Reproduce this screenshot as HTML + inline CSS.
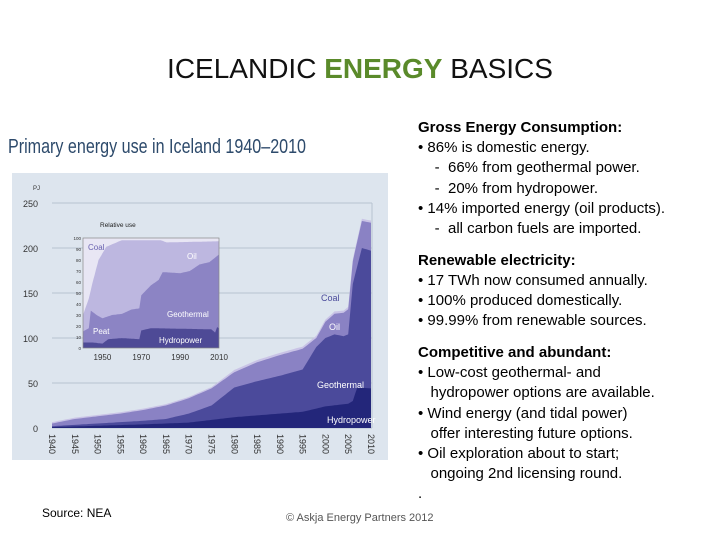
<!DOCTYPE html>
<html><head><meta charset="utf-8"><style>
body{margin:0;width:720px;height:540px;background:#fff;position:relative;overflow:hidden;font-family:"Liberation Sans",Arial,sans-serif}
.t{position:absolute;left:0;width:720px;top:53px;text-align:center;font-size:28px;color:#111}
.r{position:absolute;left:418px;top:118px;font-size:15px;line-height:20.2px;color:#000;white-space:pre}
.r b{display:block}
.gap{height:11.5px}
</style></head><body>
<div class="t">ICELANDIC <b style="color:#5a8a2a">ENERGY</b> BASICS</div>
<svg width="720" height="540" style="position:absolute;left:0;top:0" id="s" font-family="Liberation Sans,Arial,sans-serif">
<rect x="12" y="173" width="376" height="287" fill="#dde5ee"/>
<text x="8" y="153" font-size="20" fill="#2d4a6b" textLength="298" lengthAdjust="spacingAndGlyphs">Primary energy use in Iceland 1940–2010</text>
<g id="g"></g>
<text x="42" y="517" font-size="12" fill="#000">Source: NEA</text>
<text x="286" y="521" font-size="11" fill="#555">© Askja Energy Partners 2012</text>
</svg>
<div class="r"><b>Gross Energy Consumption:</b>• 86% is domestic energy.
    -  66% from geothermal power.
    -  20% from hydropower.
• 14% imported energy (oil products).
    -  all carbon fuels are imported.
<div class="gap"></div><b>Renewable electricity:</b>• 17 TWh now consumed annually.
• 100% produced domestically.
• 99.99% from renewable sources.
<div class="gap"></div><b>Competitive and abundant:</b>• Low-cost geothermal- and
   hydropower options are available.
• Wind energy (and tidal power)
   offer interesting future options.
• Oil exploration about to start;
   ongoing 2nd licensing round.
.</div>
<script>
var g=document.getElementById('g'),h='';
function X(y){return 52+(y-1940)*4.557}
function Y(v){return 428-v*0.9}
function interp(pts,yr){for(var i=0;i<pts.length-1;i++){if(yr>=pts[i][0]&&yr<=pts[i+1][0]){var t=(yr-pts[i][0])/(pts[i+1][0]-pts[i][0]);return pts[i][1]+t*(pts[i+1][1]-pts[i][1]);}}return pts[pts.length-1][1];}
function area(pts,fill,fx,fy,y0,y1){var d='M'+fx(y0)+','+fy(0);for(var y=y0;y<=y1;y+=0.5)d+='L'+fx(y).toFixed(1)+','+fy(interp(pts,y)).toFixed(1);d+='L'+fx(y1)+','+fy(0)+'Z';return '<path d="'+d+'" fill="'+fill+'"/>';}
for(var v=0;v<=250;v+=50){h+='<line x1="52" x2="372" y1="'+Y(v)+'" y2="'+Y(v)+'" stroke="#b8c2d0" stroke-width="1"/><text x="38" y="'+(Y(v)+4)+'" font-size="9" fill="#333" text-anchor="end">'+v+'</text>';}
h+='<text x="33" y="190" font-size="6" fill="#333">PJ</text><line x1="372" x2="372" y1="'+Y(250)+'" y2="428" stroke="#b8c2d0"/>';
var hy=[[1940,1],[1960,4],[1970,6],[1980,12],[1990,16],[1995,18],[2000,24],[2005,27],[2006,30],[2007,45],[2010,44]];
var ge=[[1940,2],[1950,5],[1960,8],[1965,10],[1970,16],[1975,25],[1980,45],[1985,52],[1990,58],[1995,65],[1998,90],[2000,100],[2002,104],[2004,102],[2005,104],[2006,160],[2008,200],[2010,197]];
var oi=[[1940,5],[1945,10],[1950,13],[1955,16],[1960,20],[1965,25],[1970,33],[1975,44],[1980,62],[1985,73],[1990,81],[1995,88],[1998,100],[2000,118],[2002,127],[2004,128],[2005,132],[2006,185],[2008,230],[2010,228]];
var co=oi.map(function(p){return [p[0],p[1]+(p[0]<1980?1.5:2.5)]});
h+=area(co,'#c9c3e6',X,Y,1940,2010)+area(oi,'#8a82c4',X,Y,1940,2010)+area(ge,'#4b4a9b',X,Y,1940,2010)+area(hy,'#23267a',X,Y,1940,2010);
for(var y=1940;y<=2010;y+=5){var x=X(y);h+='<text transform="translate('+(x-3)+',434) rotate(90)" font-size="9" fill="#333">'+y+'</text>';}
h+='<text x="321" y="301" font-size="9" fill="#4a4a9a">Coal</text><text x="329" y="330" font-size="9" fill="#fff">Oil</text><text x="317" y="388" font-size="9" fill="#fff">Geothermal</text><text x="327" y="423" font-size="9" fill="#fff">Hydropower</text>';
function IX(y){return 83+(y-1940)*1.943}
function IY(v){return 348-v*1.1}
h+='<rect x="83" y="238" width="136" height="110" fill="#e8e6f4"/>';
var io=[[1940,30],[1943,45],[1945,60],[1948,80],[1952,92],[1960,98],[1980,98],[1983,96],[2010,97]];
var ig=[[1940,15],[1943,18],[1944,34],[1947,30],[1950,27],[1955,30],[1960,31],[1965,35],[1969,36],[1970,48],[1975,57],[1979,62],[1981,69],[1990,68],[1995,70],[2000,76],[2005,78],[2010,85]];
var ih=[[1940,5],[1945,5],[1950,4],[1953,8],[1960,9],[1969,8],[1970,16],[1975,18],[2006,17],[2008,14],[2009,19],[2010,18]];
h+=area(io,'#bdb7e0',IX,IY,1940,2010)+area(ig,'#8c84c4',IX,IY,1940,2010)+area(ih,'#4e4a96',IX,IY,1940,2010);
h+='<rect x="83" y="238" width="136" height="110" fill="none" stroke="#888" stroke-width="0.7"/>';
for(var v=0;v<=100;v+=10)h+='<text x="81" y="'+(IY(v)+2)+'" font-size="4.5" fill="#333" text-anchor="end">'+v+'</text>';
[1950,1970,1990,2010].forEach(function(y){h+='<text x="'+IX(y)+'" y="360" font-size="8" fill="#333" text-anchor="middle">'+y+'</text>'});
h+='<text x="100" y="227" font-size="6.5" fill="#222">Relative use</text><text x="88" y="250" font-size="8" fill="#6a62b0">Coal</text><text x="187" y="259" font-size="8" fill="#fff">Oil</text><text x="167" y="317" font-size="8" fill="#fff">Geothermal</text><text x="93" y="334" font-size="8" fill="#fff">Peat</text><text x="159" y="343" font-size="8" fill="#fff">Hydropower</text>';
g.innerHTML=h;
</script>
</body></html>
